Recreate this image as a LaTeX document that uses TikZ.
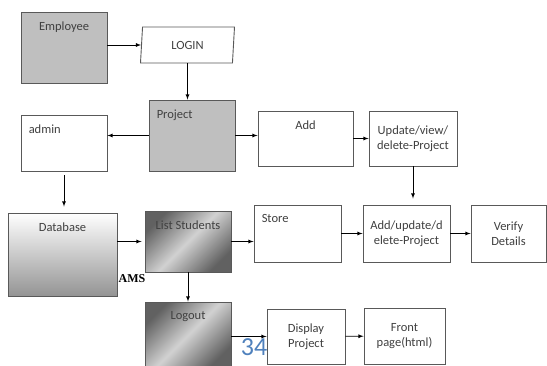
\documentclass[tikz,border=0pt]{standalone}
\usepackage{fontspec}
\setmainfont{Carlito}
\newfontfamily\amsfont{Liberation Serif}
\usetikzlibrary{positioning,arrows,shapes.geometric}

\definecolor{boxline}{HTML}{595959}
\definecolor{boxtext}{HTML}{404040}
\definecolor{pageblue}{HTML}{4F81BD}

\begin{document}
\begin{tikzpicture}
          [ x=1pt, y=-1pt,
            font=\fontsize{12.5}{14.5}\selectfont,
            text=boxtext,
            element/.style={
              rectangle,
              draw=boxline,
              line width=.9pt,
              inner sep=0pt},
            dark/.style={fill=black!25},
            fade/.style={top color=white, bottom color=black!42},
            gloss/.style={
              top color=black!62,
              bottom color=black!62,
              middle color=black!18,
              shading angle=45},
            txt/.style={anchor=north, inner sep=0pt, yshift=-10pt},
            txtleft/.style={anchor=north west, inner sep=0pt, xshift=8pt, yshift=-10pt},
            line/.style={
              draw,
              ->,
              >=latex,
              line width=.8pt},
          ]

          \fill[white] (0,0) rectangle (547,365);
          \useasboundingbox (0,0) rectangle (547,365);

          % top row
          \node (employee) [element, dark, minimum width=86pt, minimum height=71pt] at (64,47.5) {};
          \node (employeetxt) [txt] at (employee.north) {Employee};
          \node (login) [trapezium, draw=boxline, line width=.9pt, fill=white,
            trapezium left angle=76, trapezium right angle=104, trapezium stretches body,
            minimum width=94pt, minimum height=36pt, inner sep=0pt] at (187.5,45) {LOGIN};

          % second row
          \node (project) [element, dark, minimum width=86pt, minimum height=71pt] at (192,135.5) {};
          \node (projecttxt) [txtleft] at (project.north west) {Project};
          \node (admin) [element, minimum width=86pt, minimum height=56pt] at (64,143) {};
          \node (admintxt) [txtleft] at (admin.north west) {admin};
          \node (add) [element, minimum width=95pt, minimum height=55pt] at (305.5,138.5) {};
          \node (addtxt) [txt] at (add.north) {Add};
          \node (update) [element, align=center, minimum width=88pt, minimum height=55pt] at (413,138.5) {Update/view/\\delete-Project};

          % third row
          \node (database) [element, fade, minimum width=109pt, minimum height=83pt] at (62.5,254.5) {};
          \node (databasetxt) [txt] at (database.north) {Database};
          \node (list) [element, gloss, minimum width=86pt, minimum height=61pt] at (188,241.5) {};
          \node (listtxt) [txt] at (list.north) {List Students};
          \node (store) [element, minimum width=87pt, minimum height=57pt] at (297.5,233.5) {};
          \node (storetxt) [txtleft] at (store.north west) {Store};
          \node (addupdate) [element, align=center, minimum width=87pt, minimum height=57pt] at (406.5,233.5) {Add/update/d\\elete-Project};
          \node (verify) [element, align=center, minimum width=75pt, minimum height=57pt] at (508.5,233.5) {Verify\\Details};
          \node (ams) [text=black, font=\amsfont\bfseries\fontsize{12}{14}\selectfont, inner sep=0pt] at (132,279) {AMS};

          % bottom row
          \node (logout) [element, gloss, minimum width=86pt, minimum height=66pt] at (188,335) {};
          \node (logouttxt) [txt] at (logout.north) {Logout};
          \node (display) [element, align=center, minimum width=78pt, minimum height=55pt] at (306,336.5) {Display\\Project};
          \node (front) [element, align=center, minimum width=81pt, minimum height=56pt] at (404.5,336) {Front\\page(html)};

          \draw[line] (login.west -| employee.east) -- (login.west);
          \draw[line] (login.south) -- (login.south |- project.north);
          \draw[line] (project.west) -- (project.west -| admin.east);
          \draw[line] (project.east) -- (project.east -| add.west);
          \draw[line] (add) -- (update);
          \draw[line, shorten <=4pt, shorten >=6pt] (admin.south) -- (admin.south |- database.north);
          \draw[line, shorten >=6pt] (update.south) -- (update.south |- addupdate.north);
          \draw[line, shorten >=3pt] (list.west -| database.east) -- (list.west);
          \draw[line] (list.east) -- (list.east -| store.west);
          \draw[line] (store) -- (addupdate);
          \draw[line] (addupdate) -- (verify);
          \draw[line] (list) -- (logout);
          \draw[line] (display.west -| logout.east) -- (display.west);
          \draw[line] (display) -- (front);

          \node (pagenum) [text=pageblue, font=\fontsize{26}{28}\selectfont, inner sep=0pt] at (254,347) {34};

        \end{tikzpicture}
\end{document}
